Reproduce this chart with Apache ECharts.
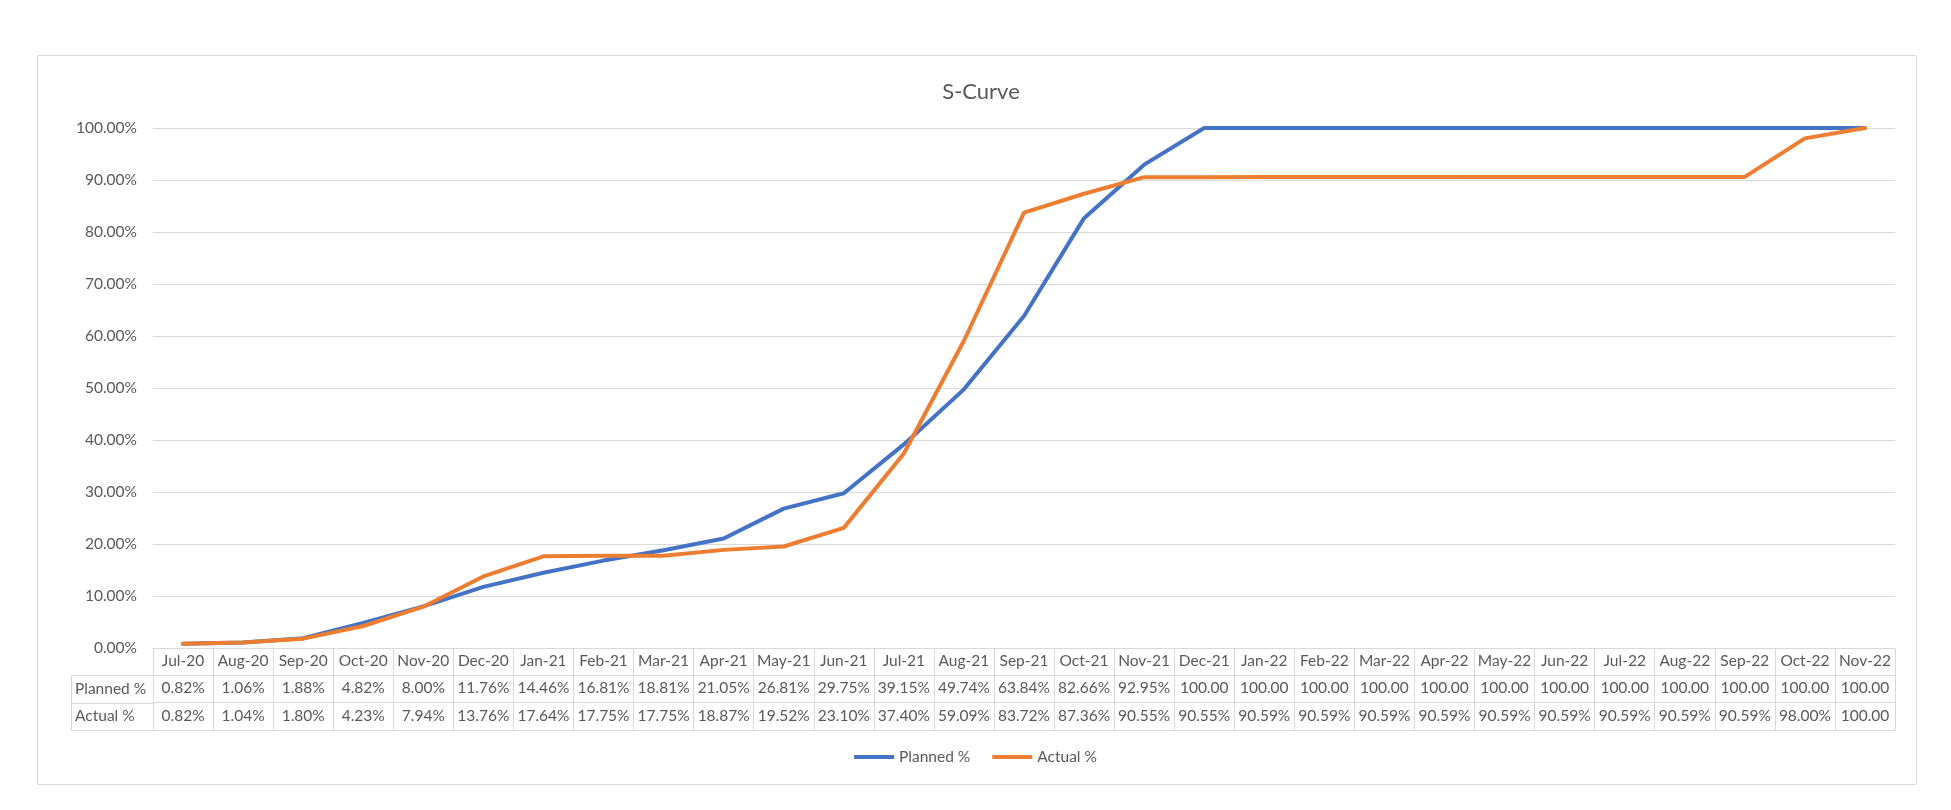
<!DOCTYPE html>
<html>
<head>
<meta charset="utf-8">
<title>S-Curve</title>
<script src="https://cdn.jsdelivr.net/npm/echarts/dist/echarts.min.js"></script>
<style>
  html, body { margin: 0; padding: 0; background: #fff; }
  #chart { width: 1951px; height: 810px; }
</style>
</head>
<body>
<div id="chart"></div>
<script>
// months on the x axis
const categories = [
  "Jul-20", "Aug-20", "Sep-20", "Oct-20", "Nov-20", "Dec-20", "Jan-21", "Feb-21",
  "Mar-21", "Apr-21", "May-21", "Jun-21", "Jul-21", "Aug-21", "Sep-21", "Oct-21",
  "Nov-21", "Dec-21", "Jan-22", "Feb-22", "Mar-22", "Apr-22", "May-22", "Jun-22",
  "Jul-22", "Aug-22", "Sep-22", "Oct-22", "Nov-22"
];
// planned % (cumulative)
const plannedPct = [
  0.82, 1.06, 1.88, 4.82, 8.00, 11.76, 14.46, 16.81, 18.81, 21.05, 26.81, 29.75,
  39.15, 49.74, 63.84, 82.66, 92.95, 100, 100, 100, 100, 100, 100, 100, 100, 100,
  100, 100, 100
];
// actual % (cumulative)
const actualPct = [
  0.82, 1.04, 1.80, 4.23, 7.94, 13.76, 17.64, 17.75, 17.75, 18.87, 19.52, 23.10,
  37.40, 59.09, 83.72, 87.36, 90.55, 90.55, 90.59, 90.59, 90.59, 90.59, 90.59, 90.59,
  90.59, 90.59, 90.59, 98.00, 100
];
const seriesNames = ["Planned %", "Actual %"];

const FONT = "Lato, 'Open Sans', sans-serif";
const TEXT = "#595959";
const LINE = "#d9d9d9";
const FS = 15.5;

// layout
const gridLeft = 153, gridRight = 56, gridTop = 128, gridBottom = 162;
const rowH = 27.3;
const axisY = 810 - gridBottom;
const tableLeft = 71;

// Excel truncates "100.00%" to "100.00" in the narrow cells
const fmtCell = (v) => (v >= 100 ? v.toFixed(2) : v.toFixed(2) + "%");

const chart = echarts.init(document.getElementById("chart"));

const tableAxis = (offset, values) => ({
  type: "category",
  data: categories,
  boundaryGap: true,
  position: "bottom",
  offset: offset,
  axisLine: { show: true, lineStyle: { color: LINE, width: 1 } },
  axisTick: { show: false },
  axisLabel: {
    show: !!values,
    interval: 0,
    margin: 5,
    color: TEXT,
    fontSize: FS,
    fontFamily: FONT,
    formatter: (v, i) => (values ? fmtCell(values[i]) : "")
  }
});

const option = {
  animation: false,
  title: {
    text: "S-Curve",
    left: 976,
    textAlign: "center",
    top: 76,
    textStyle: { fontSize: 22, fontWeight: "normal", color: TEXT, fontFamily: FONT }
  },
  legend: {
    data: seriesNames,
    left: "center",
    top: 744,
    icon: "rect",
    itemWidth: 40,
    itemHeight: 4,
    itemGap: 22,
    textStyle: { fontSize: FS, color: TEXT, fontFamily: FONT }
  },
  grid: { left: gridLeft, right: gridRight, top: gridTop, bottom: gridBottom },
  xAxis: [
    // header row: month names, ticks make the cell borders
    {
      type: "category",
      data: categories,
      boundaryGap: true,
      axisLine: { show: true, lineStyle: { color: LINE, width: 1 } },
      axisTick: { show: true, interval: 0, length: rowH * 3, lineStyle: { color: LINE } },
      axisLabel: { interval: 0, margin: 5, color: TEXT, fontSize: FS, fontFamily: FONT }
    },
    tableAxis(rowH, plannedPct),
    tableAxis(rowH * 2, actualPct),
    tableAxis(rowH * 3, null)
  ],
  yAxis: {
    type: "value",
    min: 0,
    max: 100,
    interval: 10,
    axisLine: { show: false },
    axisTick: { show: false },
    splitLine: { lineStyle: { color: LINE, width: 1 } },
    axisLabel: {
      margin: 16,
      color: TEXT,
      fontSize: FS,
      fontFamily: FONT,
      formatter: (v) => v.toFixed(2) + "%"
    }
  },
  series: [
    {
      name: seriesNames[0],
      type: "line",
      data: plannedPct,
      showSymbol: false,
      symbol: "none",
      lineStyle: { color: "#4472C4", width: 4, cap: "round", join: "round" },
      itemStyle: { color: "#4472C4" }
    },
    {
      name: seriesNames[1],
      type: "line",
      data: actualPct,
      showSymbol: false,
      symbol: "none",
      lineStyle: { color: "#ED7D31", width: 4, cap: "round", join: "round" },
      itemStyle: { color: "#ED7D31" }
    }
  ],
  graphic: [
    // chart border
    {
      type: "rect",
      shape: { x: 37.5, y: 55.5, width: 1879, height: 729 },
      style: { fill: "none", stroke: LINE, lineWidth: 1 },
      silent: true
    },
    // row label column of the data table
    ...[1, 2, 3].map((r) => ({
      type: "line",
      shape: {
        x1: tableLeft, y1: Math.round(axisY + rowH * r) + 0.5,
        x2: gridLeft, y2: Math.round(axisY + rowH * r) + 0.5
      },
      style: { stroke: LINE, lineWidth: 1 },
      silent: true
    })),
    {
      type: "line",
      shape: { x1: tableLeft + 0.5, y1: axisY + rowH, x2: tableLeft + 0.5, y2: axisY + rowH * 3 },
      style: { stroke: LINE, lineWidth: 1 },
      silent: true
    },
    ...seriesNames.map((name, i) => ({
      type: "text",
      x: tableLeft + 4,
      y: axisY + rowH * (i + 1) + rowH / 2,
      style: {
        text: name,
        fill: TEXT,
        fontSize: FS,
        fontFamily: FONT,
        verticalAlign: "middle",
        align: "left"
      },
      silent: true
    }))
  ]
};

chart.setOption(option);
</script>
</body>
</html>
